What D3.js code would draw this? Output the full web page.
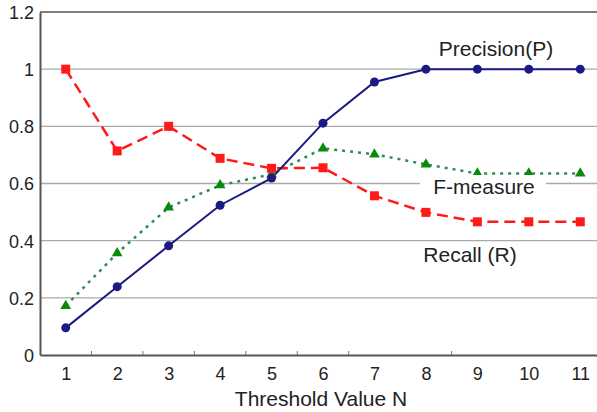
<!DOCTYPE html>
<html>
<head>
<meta charset="utf-8">
<script src="https://cdn.jsdelivr.net/npm/d3@7"></script>
<style>
  body { margin: 0; background: #fff; }
  text { font-family: "Liberation Sans", Arial, sans-serif; fill: #222; }
</style>
</head>
<body>
<svg></svg>
<script>
// threshold values on the x axis
let thresholds = [1, 2, 3, 4, 5, 6, 7, 8, 9, 10, 11];

let precision = [0.095, 0.239, 0.382, 0.524, 0.619, 0.811, 0.955, 1, 1, 1, 1];
let recall    = [1.0, 0.714, 0.8, 0.688, 0.653, 0.655, 0.557, 0.499, 0.466, 0.466, 0.466];
let fmeasure  = [0.172, 0.356, 0.516, 0.594, 0.632, 0.723, 0.702, 0.667, 0.635, 0.635, 0.635];

let yTicks = [0, 0.2, 0.4, 0.6, 0.8, 1, 1.2];
let yTickLabels = ['0', '0.2', '0.4', '0.6', '0.8', '1', '1.2'];
let xMinorTicks = [1.5, 2.5, 3.5, 4.5, 5.5, 6.5, 8.5];

let width = 597;
let height = 412;
let plotLeft = 40, plotTop = 12, plotBottom = 355, plotRight = 606;

let svg = d3.select('svg')
  .attr('width', width)
  .attr('height', height);

let xScale = d3.scaleLinear().domain([0.5, 11.5]).range([plotLeft, plotRight]);
let yScale = d3.scaleLinear().domain([0, 1.2]).range([plotBottom, plotTop]);

// grid lines
svg.append('g')
  .selectAll('line')
  .data(yTicks.filter(d => d > 0 && d < 1.2))
  .enter()
  .append('line')
  .attr('x1', plotLeft)
  .attr('x2', plotRight)
  .attr('y1', d => yScale(d))
  .attr('y2', d => yScale(d))
  .attr('stroke', '#aaa')
  .attr('stroke-width', 1.3);

// top frame line
svg.append('line')
  .attr('x1', plotLeft).attr('x2', plotRight)
  .attr('y1', yScale(1.2)).attr('y2', yScale(1.2))
  .attr('stroke', '#555').attr('stroke-width', 1.5);

// y axis
let yAxis = d3.axisLeft(yScale)
  .tickValues(yTicks)
  .tickFormat((d, i) => yTickLabels[i])
  .tickSize(0)
  .tickPadding(6);

let gy = svg.append('g')
  .attr('transform', 'translate(' + plotLeft + ',0)')
  .call(yAxis);
gy.select('.domain').attr('stroke', '#555').attr('stroke-width', 2);
gy.selectAll('text').style('font-size', '18px').attr('dy', '0.36em').attr('fill', '#222');

// x axis
let xAxis = d3.axisBottom(xScale)
  .tickValues(thresholds)
  .tickFormat(d3.format('d'))
  .tickSize(0)
  .tickPadding(12);

let gx = svg.append('g')
  .attr('transform', 'translate(0,' + plotBottom + ')')
  .call(xAxis);
gx.select('.domain').attr('stroke', '#555').attr('stroke-width', 2);
gx.selectAll('text').style('font-size', '18px').attr('fill', '#222');

// small inner ticks between categories
svg.append('g')
  .selectAll('line')
  .data(xMinorTicks)
  .enter()
  .append('line')
  .attr('x1', d => xScale(d))
  .attr('x2', d => xScale(d))
  .attr('y1', plotBottom)
  .attr('y2', plotBottom - 4)
  .attr('stroke', '#777')
  .attr('stroke-width', 1);

svg.append('text')
  .attr('x', 321)
  .attr('y', 406)
  .attr('text-anchor', 'middle')
  .style('font-size', '21px')
  .text('Threshold Value N');

let line = d3.line()
  .x((d, i) => xScale(thresholds[i]))
  .y(d => yScale(d));

// F-measure
svg.append('path')
  .datum(fmeasure)
  .attr('d', line)
  .attr('fill', 'none')
  .attr('stroke', '#2e8b57')
  .attr('stroke-width', 2.5)
  .attr('stroke-dasharray', '3,5');

// Recall
svg.append('path')
  .datum(recall)
  .attr('d', line)
  .attr('fill', 'none')
  .attr('stroke', '#ff1a1a')
  .attr('stroke-width', 2.5)
  .attr('stroke-dasharray', '11,6');

// Precision
svg.append('path')
  .datum(precision)
  .attr('d', line)
  .attr('fill', 'none')
  .attr('stroke', '#1a1a80')
  .attr('stroke-width', 2);

// markers
svg.append('g')
  .selectAll('path')
  .data(fmeasure)
  .enter()
  .append('path')
  .attr('d', d3.symbol().type(d3.symbolTriangle).size(50))
  .attr('transform', (d, i) => 'translate(' + xScale(thresholds[i]) + ',' + yScale(d) + ')')
  .attr('fill', '#0a8a0a');

svg.append('g')
  .selectAll('rect')
  .data(recall)
  .enter()
  .append('rect')
  .attr('x', (d, i) => xScale(thresholds[i]) - 4.5)
  .attr('y', d => yScale(d) - 4.5)
  .attr('width', 9)
  .attr('height', 9)
  .attr('fill', '#ff1a1a');

svg.append('g')
  .selectAll('circle')
  .data(precision)
  .enter()
  .append('circle')
  .attr('cx', (d, i) => xScale(thresholds[i]))
  .attr('cy', d => yScale(d))
  .attr('r', 4.5)
  .attr('fill', '#1a1a80');

// series labels
svg.append('text')
  .attr('x', 496).attr('y', 56)
  .attr('text-anchor', 'middle')
  .style('font-size', '21px')
  .text('Precision(P)');

svg.append('rect')
  .attr('x', 420).attr('y', 175)
  .attr('width', 126).attr('height', 18)
  .attr('fill', '#fff');

svg.append('text')
  .attr('x', 484).attr('y', 194)
  .attr('text-anchor', 'middle')
  .style('font-size', '21px')
  .text('F-measure');

svg.append('text')
  .attr('x', 470).attr('y', 262)
  .attr('text-anchor', 'middle')
  .style('font-size', '21px')
  .text('Recall (R)');
</script>
</body>
</html>
